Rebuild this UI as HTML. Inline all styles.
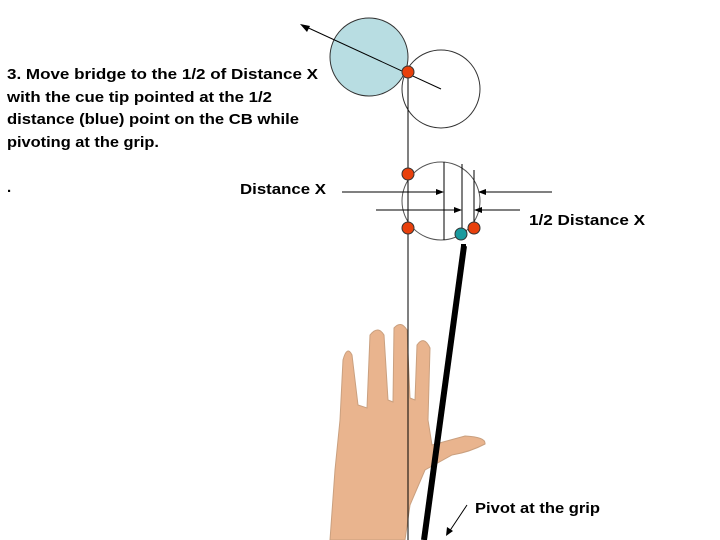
<!DOCTYPE html>
<html><head><style>body{margin:0;background:#fff}svg{display:block}</style></head>
<body>
<svg width="720" height="540" xmlns="http://www.w3.org/2000/svg" font-family="Liberation Sans, Arial, sans-serif" font-weight="bold">
<rect width="720" height="540" fill="#fff"/>
<g font-size="15" fill="#000">
<text x="7" y="79" textLength="311" lengthAdjust="spacingAndGlyphs">3. Move bridge to the 1/2 of Distance X</text>
<text x="7" y="102" textLength="265" lengthAdjust="spacingAndGlyphs">with the cue tip pointed at the 1/2</text>
<text x="7" y="124" textLength="292" lengthAdjust="spacingAndGlyphs">distance (blue) point on the CB while</text>
<text x="7" y="147" textLength="152" lengthAdjust="spacingAndGlyphs">pivoting at the grip.</text>
<text x="7" y="192">.</text>
<text x="240" y="194" textLength="86" lengthAdjust="spacingAndGlyphs">Distance X</text>
<text x="529" y="225" textLength="116" lengthAdjust="spacingAndGlyphs">1/2 Distance X</text>
<text x="475" y="513" textLength="125" lengthAdjust="spacingAndGlyphs">Pivot at the grip</text>
</g>
<!-- hand -->
<g fill="#e9b48e" stroke="#caa07f" stroke-width="1">
<path d="M330,540 L335,470 L340,420 L343,360 Q347,345 352,355 L358,405 L367,408 L370,335 Q378,325 384,335 L388,400 L393,402 L394,328 Q401,320 407,330 L410,398 L415,400 L417,345 Q424,335 430,348 L428,420 L432,445 L465,436 Q486,437 485,444 Q470,452 452,455 L425,470 L410,505 L405,540 Z"/>
</g>
<!-- circles -->
<circle cx="369" cy="57" r="39" fill="#b8dde2" stroke="#333" stroke-width="1"/>
<circle cx="441" cy="89" r="39" fill="none" stroke="#333" stroke-width="1"/>
<circle cx="441" cy="201" r="39" fill="none" stroke="#555" stroke-width="1"/>
<g stroke="#000" stroke-width="1" fill="none">
<line x1="408" y1="72" x2="408" y2="540"/>
<line x1="444" y1="162" x2="444" y2="240"/>
<line x1="462" y1="164" x2="462" y2="240"/>
<line x1="474" y1="170" x2="474" y2="228"/>
<line x1="441" y1="89" x2="302" y2="25"/>
<line x1="342" y1="192" x2="440" y2="192"/>
<line x1="552" y1="192" x2="482" y2="192"/>
<line x1="376" y1="210" x2="458" y2="210"/>
<line x1="520" y1="210" x2="478" y2="210"/>
<line x1="467" y1="505" x2="449" y2="532"/>
</g>
<g fill="#000">
<polygon points="300,24 310,26 307,32"/>
<polygon points="444,192 436,189 436,195"/>
<polygon points="478,192 486,189 486,195"/>
<polygon points="462,210 454,207 454,213"/>
<polygon points="474,210 482,207 482,213"/>
<polygon points="446,536 447,527 453,531"/>
</g>
<line x1="464" y1="246" x2="424" y2="540" stroke="#000" stroke-width="6"/>
<rect x="461" y="244" width="5" height="5" fill="#000"/>
<g stroke="#333" stroke-width="1">
<circle cx="408" cy="72" r="6" fill="#e8400c"/>
<circle cx="408" cy="174" r="6" fill="#e8400c"/>
<circle cx="408" cy="228" r="6" fill="#e8400c"/>
<circle cx="474" cy="228" r="6" fill="#e8400c"/>
<circle cx="461" cy="234" r="6" fill="#1a9a9e"/>
</g>
</svg>
</body></html>
